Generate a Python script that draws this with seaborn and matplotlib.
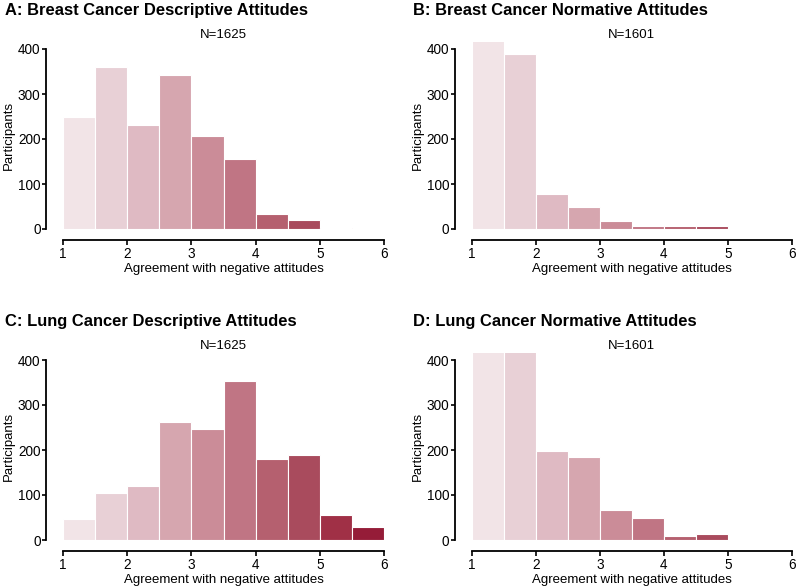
import numpy as np
import pandas as pd
import matplotlib
matplotlib.use("Agg")
import matplotlib.pyplot as plt
import seaborn as sns

# ---- data (counts per 0.5-wide bin starting at 1) ----
bin_edges = [1.0, 1.5, 2.0, 2.5, 3.0, 3.5, 4.0, 4.5, 5.0, 5.5, 6.0]
breast_descriptive = [249, 361, 232, 343, 207, 156, 34, 20, 3, 0]
breast_normative = [1047, 389, 78, 50, 17, 7, 7, 6, 0, 0]
lung_descriptive = [47, 105, 121, 262, 247, 353, 181, 190, 55, 30]
lung_normative = [560, 518, 197, 185, 67, 50, 10, 14, 0, 0]
titles = ["A: Breast Cancer Descriptive Attitudes",
          "B: Breast Cancer Normative Attitudes",
          "C: Lung Cancer Descriptive Attitudes",
          "D: Lung Cancer Normative Attitudes"]
n_labels = ["N=1625", "N=1601", "N=1625", "N=1601"]
bin_colors = ["#f2e4e7", "#e8d0d6", "#dfbac3", "#d6a6af", "#cb8c98",
              "#c07584", "#b5606f", "#a94b5d", "#a03046", "#951c38"]
y_ticks = [0, 100, 200, 300, 400]
x_ticks = [1, 2, 3, 4, 5, 6]
x_label = "Agreement with negative attitudes"
y_label = "Participants"

sns.set_theme(style="ticks")
plt.rcParams['font.family'] = ['Liberation Sans', 'DejaVu Sans']
plt.rcParams['text.color'] = 'black'
plt.rcParams['axes.labelcolor'] = 'black'
plt.rcParams['xtick.color'] = 'black'
plt.rcParams['ytick.color'] = 'black'

fig = plt.figure(figsize=(7.96, 5.88), dpi=100)
W, H = 796, 588

def px_axes(left, right, y0, ytop):
    return [left / W, 1 - y0 / H, (right - left) / W, (y0 - ytop) / H]

ymax = 415
scale = 180 / 400.0
layout = [(63, 384, 229), (471.7, 792, 229), (63, 384, 540), (471.7, 792, 540)]
series = [breast_descriptive, breast_normative, lung_descriptive, lung_normative]
title_pos = [(5, 3), (413, 3), (5, 314), (413, 314)]

centers = [(a + b) / 2 for a, b in zip(bin_edges[:-1], bin_edges[1:])]

for i, (vals, (l, r, y0)) in enumerate(zip(series, layout)):
    ax = fig.add_axes(px_axes(l, r, y0, y0 - ymax * scale))
    df = pd.DataFrame({"x": centers, "w": vals})
    sns.histplot(data=df, x="x", weights="w", bins=bin_edges, ax=ax,
                 edgecolor="white", linewidth=0.8, alpha=1)
    for p, c, v in zip(ax.patches, bin_colors, vals):
        p.set_facecolor(c)
        if v == 0:
            p.set_visible(False)
    ax.set_xlim(1, 6)
    ax.set_ylim(0, ymax)
    ax.set_xticks(x_ticks)
    ax.set_yticks(y_ticks)
    ax.spines['top'].set_visible(False)
    ax.spines['right'].set_visible(False)
    ax.spines['left'].set_position(('outward', 12))
    ax.spines['bottom'].set_position(('outward', 8))
    ax.spines['left'].set_bounds(0, 400)
    ax.spines['bottom'].set_bounds(1, 6)
    for s in ('left', 'bottom'):
        ax.spines[s].set_linewidth(1.3)
        ax.spines[s].set_color('black')
    ax.tick_params(axis='both', colors='black', labelsize=9.8, width=1.2)
    ax.tick_params(axis='y', length=3, pad=1.2)
    ax.tick_params(axis='x', length=3.5, pad=1.2)
    ax.set_xlabel(x_label, fontsize=9.5, labelpad=1.5)
    ax.set_ylabel(y_label, fontsize=9.5, labelpad=2)
    ax.set_title(n_labels[i], fontsize=9.5, pad=3)
    tx, ty = title_pos[i]
    fig.text(tx / W, 1 - ty / H, titles[i], fontsize=11.9, fontweight='bold',
             ha='left', va='top')

fig.savefig("out.png", dpi=100)
